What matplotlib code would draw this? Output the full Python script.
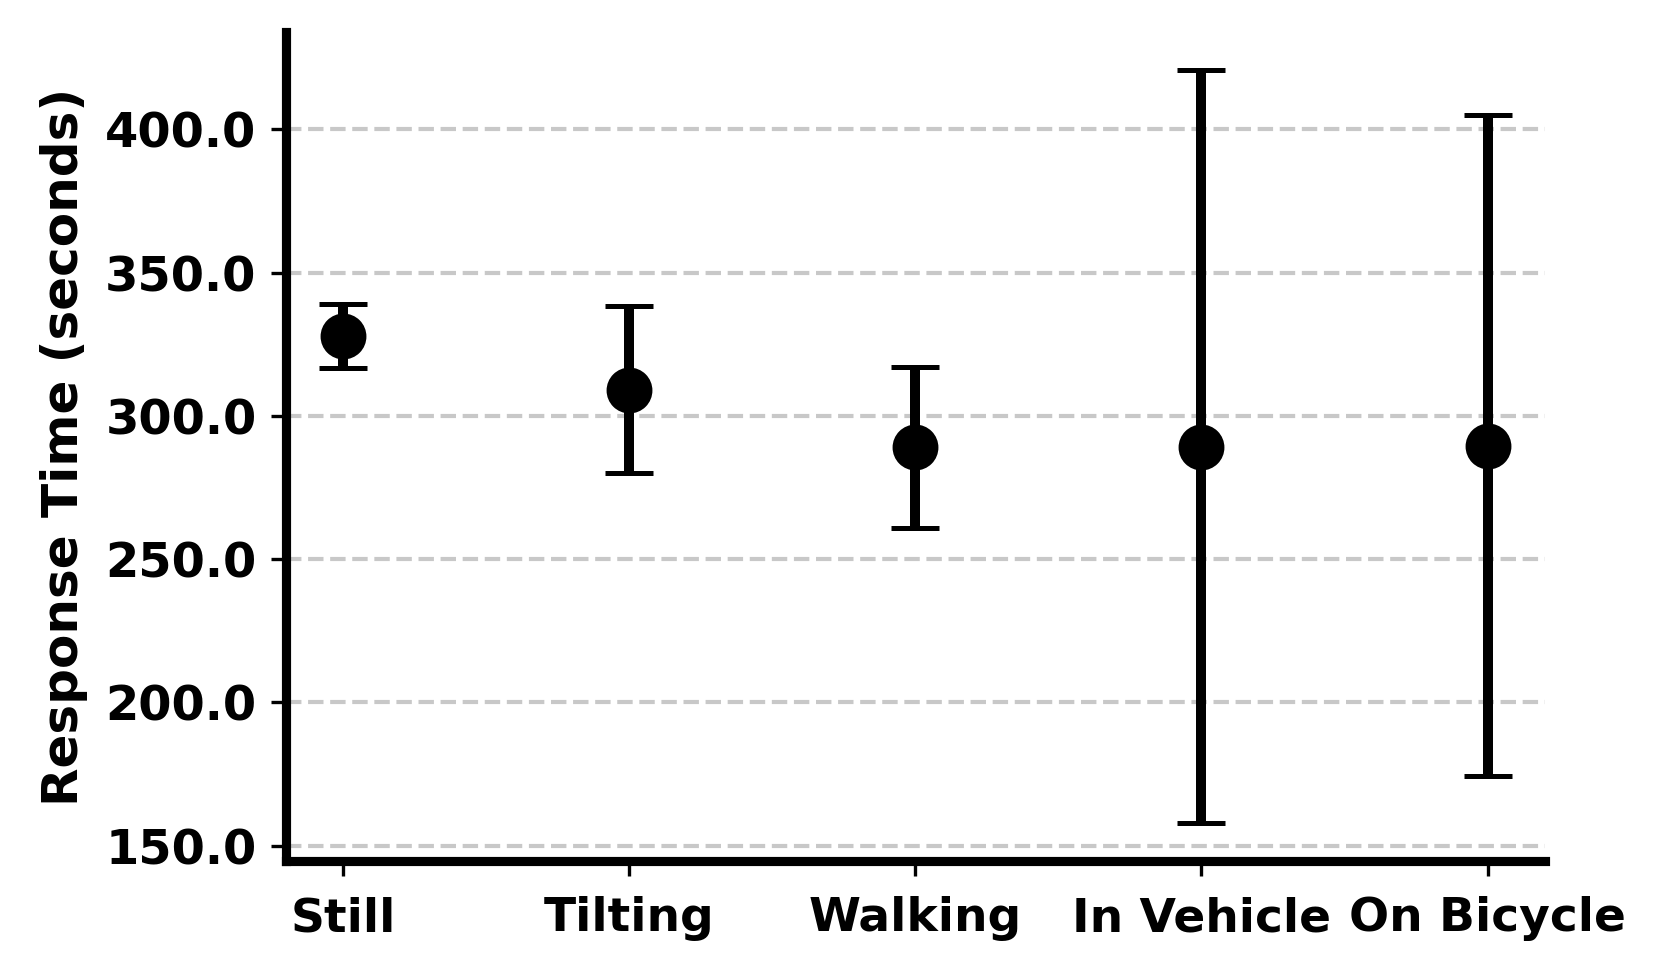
import matplotlib
matplotlib.use("Agg")
import matplotlib.pyplot as plt
from matplotlib.ticker import FormatStrFormatter

activities = ["Still", "Tilting", "Walking", "In Vehicle", "On Bicycle"]
mean_rt = [328.0, 309.2, 289.0, 289.3, 289.6]
std_rt = [11.2, 29.0, 28.2, 131.5, 115.5]

plt.rcParams.update({
    "font.family": ["DejaVu Sans"],
    "font.weight": "bold",
    "font.size": 12,
})

fig, ax = plt.subplots(figsize=(1661 / 300, 976 / 300), dpi=300)
fig.subplots_adjust(left=0.172, right=0.930, top=0.967, bottom=0.118)

x = list(range(len(activities)))
ax.errorbar(x, mean_rt, yerr=std_rt, fmt="o", color="black",
            markersize=10, elinewidth=2.4, capsize=5.8, capthick=1.2, zorder=3)

ax.set_xticks(x)
ax.set_xticklabels(activities, fontweight="bold", fontsize=11.3)
ax.tick_params(axis="x", pad=5.0)
ax.set_ylabel("Response Time (seconds)", fontweight="bold", fontsize=12)
ax.yaxis.set_major_formatter(FormatStrFormatter("%.1f"))
for lab in ax.get_yticklabels():
    lab.set_fontweight("bold")
    lab.set_fontsize(11.5)

ax.grid(axis="y", linestyle="--", color="#c8c8c8", linewidth=1.0, zorder=0)
ax.set_axisbelow(True)
for side in ("top", "right"):
    ax.spines[side].set_visible(False)
for side in ("left", "bottom"):
    ax.spines[side].set_linewidth(2.2)

fig.savefig("out.png", dpi=300)
